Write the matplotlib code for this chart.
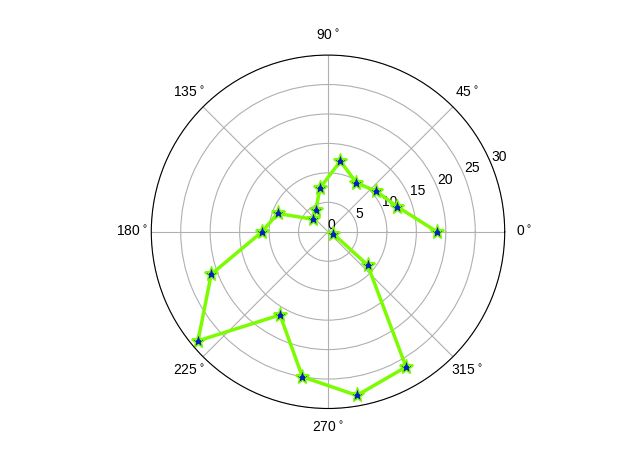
import numpy as np
import matplotlib
matplotlib.use("Agg")
import matplotlib.pyplot as plt

plt.rcParams['font.family'] = ['Liberation Sans', 'DejaVu Sans']

angles_deg = [0, 20, 40, 60, 80, 100, 120, 140, 160, 180, 200, 220, 240, 260, 280, 300, 320, 340]
radii = [18.5, 12.5, 10.7, 9.6, 12.2, 7.6, 4.2, 3.3, 9.1, 11.2, 21.1, 28.8, 16.3, 25.0, 28.2, 26.5, 8.8, 0.9]
theta_ticks = [0, 45, 90, 135, 180, 225, 270, 315]
theta_labels = [f"{t}$^\\circ$" for t in theta_ticks]

fig = plt.figure(figsize=(6.4, 4.59), dpi=100)
ax = fig.add_subplot(111, projection='polar')
theta = np.deg2rad(angles_deg)
ax.plot(theta, radii, color='lawngreen', linewidth=2.5, marker='*',
        markersize=11, markerfacecolor='#0020c0', markeredgecolor='lawngreen')
ax.set_rmax(30)
ax.set_rticks([0, 5, 10, 15, 20, 25, 30])
ax.set_xticks(np.deg2rad(theta_ticks))
ax.set_xticklabels(theta_labels)
ax.grid(True)
fig.savefig('out.png', dpi=100)
